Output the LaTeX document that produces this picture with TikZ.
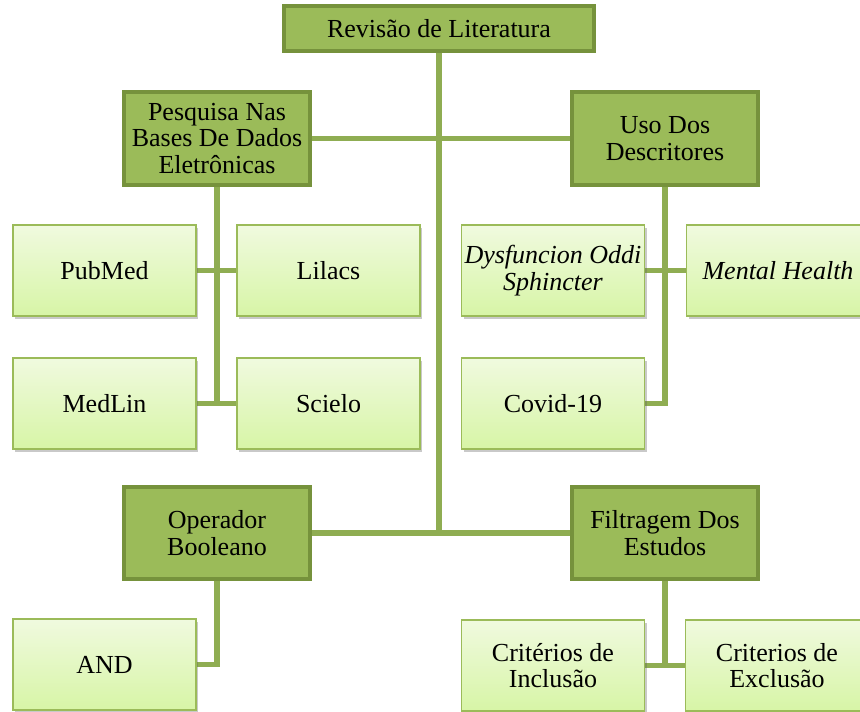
\documentclass[tikz,border=0pt]{standalone}
\usepackage{fontspec}
\setmainfont{Liberation Serif}
\usetikzlibrary{shadows,backgrounds}
\definecolor{darkfill}{HTML}{9BBB59}
\definecolor{darkedge}{HTML}{76923C}
\definecolor{lighttop}{HTML}{F0FADF}
\definecolor{lightbot}{HTML}{D7F5A6}
\definecolor{lightedge}{HTML}{9BBB59}
\definecolor{linkcol}{HTML}{8FAD52}
\tikzset{
  mainbox/.style={draw=darkedge, line width=4pt, fill=darkfill, inner sep=0pt,
    align=center, font=\fontsize{26}{26.5}\selectfont},
  subbox/.style={draw=lightedge, line width=1.8pt, top color=lighttop, bottom color=lightbot,
    inner sep=0pt, minimum width=183pt, minimum height=91pt, align=center,
    font=\fontsize{26}{26.5}\selectfont,
    drop shadow={shadow xshift=2pt, shadow yshift=-3pt, opacity=0.35, fill=black!60}},
  link/.style={draw=linkcol, line width=5.5pt}
}
\begin{document}
\begin{tikzpicture}[x=1pt,y=-1pt]
\clip (0,0) rectangle (860,712);
\useasboundingbox (0,0) rectangle (860,712);
% main boxes
\node[mainbox, minimum width=310pt, minimum height=45pt] (top) at (439,28.5) {Revisão de Literatura};
\node[mainbox, minimum width=186pt, minimum height=93pt] (pesq) at (217,138.5) {Pesquisa Nas\\Bases De Dados\\Eletrônicas};
\node[mainbox, minimum width=186pt, minimum height=93pt] (uso) at (665,138.5) {Uso Dos\\Descritores};
\node[mainbox, minimum width=186pt, minimum height=92pt] (oper) at (217,533) {Operador\\Booleano};
\node[mainbox, minimum width=186pt, minimum height=92pt] (filt) at (665,533) {Filtragem Dos\\Estudos};
% sub boxes
\node[subbox] (pubmed) at (104.5,270.5) {PubMed};
\node[subbox] (lilacs) at (328.5,270.5) {Lilacs};
\node[subbox] (medlin) at (104.5,403.5) {MedLin};
\node[subbox] (scielo) at (328.5,403.5) {Scielo};
\node[subbox] (dysf) at (553,270.5) {\itshape Dysfuncion Oddi\\\itshape Sphincter};
\node[subbox] (mental) at (778,270.5) {\itshape Mental Health};
\node[subbox] (covid) at (553,403.5) {Covid-19};
\node[subbox] (and) at (104.5,664.5) {AND};
\node[subbox] (incl) at (553,665.5) {Critérios de\\Inclusão};
\node[subbox] (excl) at (777,665.5) {Criterios de\\Exclusão};
% connectors
\begin{scope}[on background layer]
\fill[white] (0,0) rectangle (860,712);
\draw[link] (oper.east) -- (filt.west);
\draw[link] (top.south) -- (top.south |- oper.east);
\draw[link] (pesq.east) -- (uso.west);
\draw[link] (pesq.south) -- (pesq.south |- medlin.east);
\draw[link] (pubmed.east) -- (lilacs.west);
\draw[link] (medlin.east) -- (scielo.west);
\draw[link] (uso.south) -- (uso.south |- covid.east) -- (covid.east);
\draw[link] (dysf.east) -- (mental.west);
\draw[link] (oper.south) -- (oper.south |- and.east) -- (and.east);
\draw[link] (filt.south) -- (filt.south |- incl.east);
\draw[link] (incl.east) -- (excl.west);
\end{scope}
\end{tikzpicture}
\end{document}
